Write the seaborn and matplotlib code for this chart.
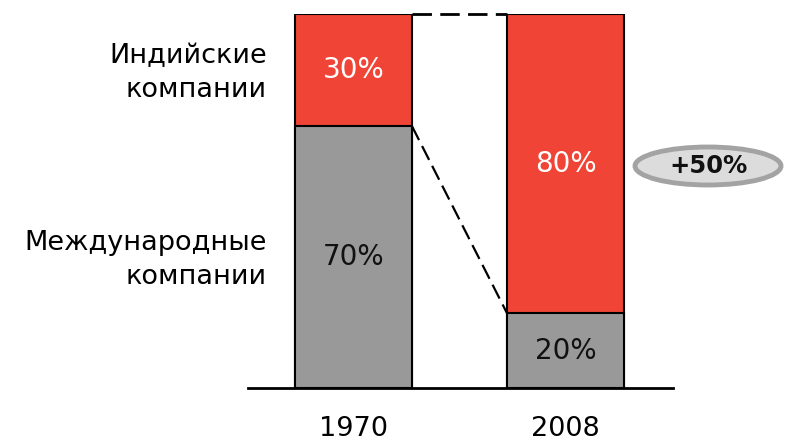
import pandas as pd
import matplotlib.pyplot as plt
import seaborn as sns
from matplotlib.patches import Ellipse

years = ["1970", "2008"]
indian = [30, 80]          # Индийские компании, %
international = [70, 20]   # Международные компании, %
change_label = "+50%"

red = "#F04436"
grey = "#999999"

sns.set_theme(style="white")
plt.rcParams["font.family"] = ["DejaVu Sans"]

df = pd.DataFrame({"year": years, "indian": indian, "intl": international})
df["total"] = df["indian"] + df["intl"]

fig = plt.figure(figsize=(7.94, 4.44), dpi=100)
ax = fig.add_axes([248 / 794, 1 - 388 / 444, (673 - 248) / 794, (388 - 14) / 444])

bw = 117 / 212
# stacked bars: total first (red), then the international share on top (grey)
sns.barplot(data=df, x="year", y="total", color=red, width=bw, saturation=1,
            edgecolor="black", linewidth=1.5, ax=ax)
sns.barplot(data=df, x="year", y="intl", color=grey, width=bw, saturation=1,
            edgecolor="black", linewidth=1.5, ax=ax)

ax.set_xlim(-105.5 / 212, (673 - 353.5) / 212)
ax.set_ylim(0, 100)
ax.set_xlabel("")
ax.set_ylabel("")
ax.set_yticks([])
sns.despine(ax=ax, left=True, top=True, right=True)
ax.spines["bottom"].set_color("black")
ax.spines["bottom"].set_linewidth(2)
ax.tick_params(axis="x", length=0, pad=20, labelsize=19.5, labelcolor="black")

# segment labels
for i, row in df.iterrows():
    ax.text(i, row["intl"] + row["indian"] / 2, f"{row['indian']}%", ha="center",
            va="center", color="white", fontsize=20)
    ax.text(i, row["intl"] / 2, f"{row['intl']}%", ha="center", va="center",
            color="#111111", fontsize=20)

# dashed connectors
h = bw / 2
ax.plot([h, 1 - h], [df["total"][0], df["total"][1]], ls=(0, (7, 3)), color="black",
        lw=2, clip_on=False)
ax.plot([h, 1 - h], [df["intl"][0], df["intl"][1]], ls=(0, (7, 3)), color="black",
        lw=1.6, clip_on=False)

# change badge
ex = (708 - 353.5) / 212
ey = (388 - 166) / 374 * 100
ax.add_patch(Ellipse((ex, ey), 146 / 212, 38 / 374 * 100, facecolor="#dcdcdc",
                     edgecolor="#a3a3a3", lw=3.5, clip_on=False))
ax.text(ex, ey, change_label, ha="center", va="center", fontsize=17.5,
        fontweight="bold", color="#111111")

# legend-like labels on the left
fig.text(267 / 794, 1 - 73 / 444, "Индийские\nкомпании", ha="right", va="center",
         fontsize=19.5, linespacing=1.4, color="black")
fig.text(267 / 794, 1 - 260 / 444, "Международные\nкомпании", ha="right", va="center",
         fontsize=19.5, linespacing=1.4, color="black")

fig.savefig("out.png", dpi=100)
